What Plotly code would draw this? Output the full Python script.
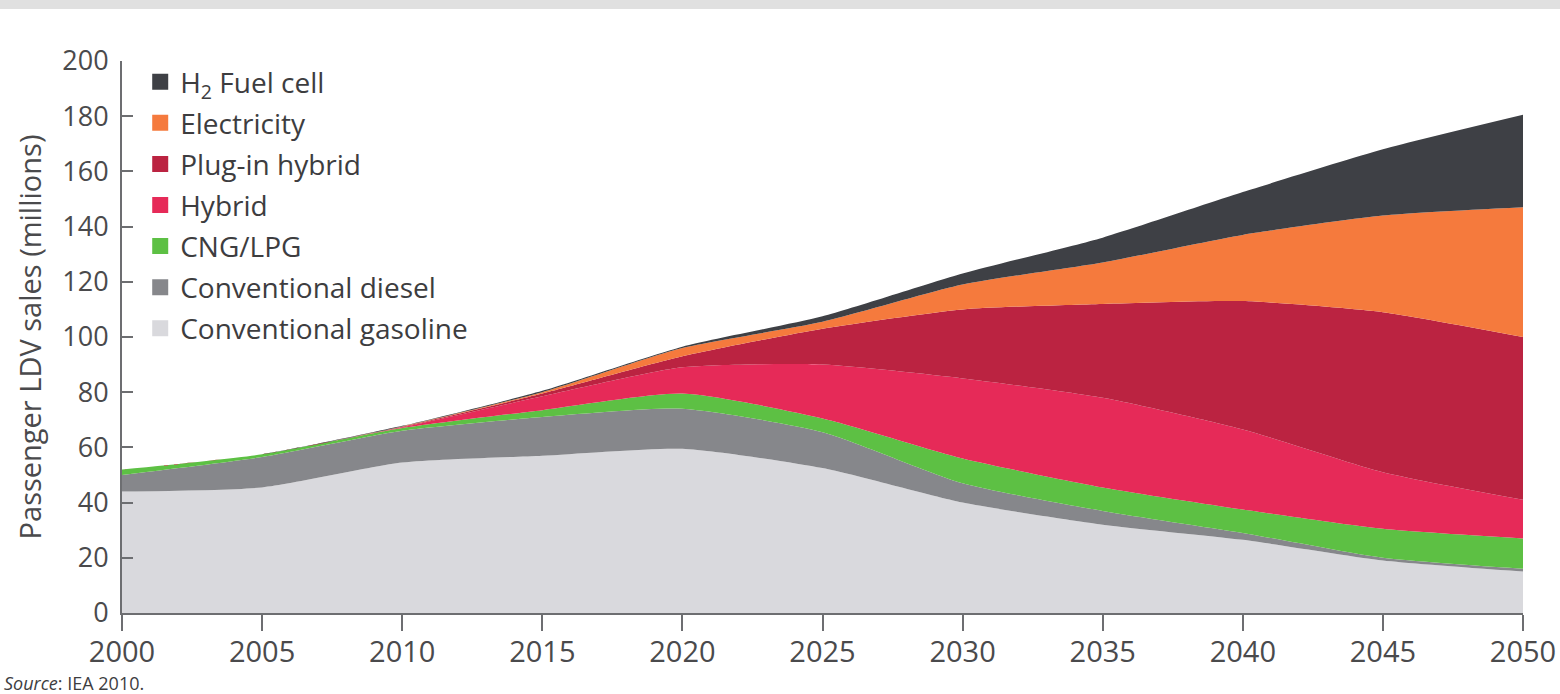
import plotly.graph_objects as go

years = [2000, 2005, 2010, 2015, 2020, 2025, 2030, 2035, 2040, 2045, 2050]

gasoline = [44, 45.5, 54.5, 57, 59.5, 52.5, 40, 32, 26.5, 19, 15]
diesel = [6, 11, 11.5, 14, 14.5, 13, 7, 5, 2.5, 1, 1]
cng_lpg = [2, 1, 1, 2.5, 5.5, 5, 9, 8.5, 8.5, 10.5, 11]
hybrid = [0, 0, 0.3, 5, 9.5, 19.5, 29, 32.5, 29, 20.5, 14]
plug_in = [0, 0, 0.2, 1, 4, 13, 25, 34, 46.5, 58, 59]
electricity = [0, 0, 0.1, 0.5, 3, 2.5, 9, 15, 24, 35, 47]
fuel_cell = [0, 0, 0.2, 0.5, 0.5, 2, 4, 9, 15.5, 24, 33.5]

series = [
    ("Conventional gasoline", gasoline, "#d9d9dd"),
    ("Conventional diesel", diesel, "#86878b"),
    ("CNG/LPG", cng_lpg, "#5dc044"),
    ("Hybrid", hybrid, "#e62a58"),
    ("Plug-in hybrid", plug_in, "#bb2341"),
    ("Electricity", electricity, "#f57a3d"),
    ("H<sub>2</sub> Fuel cell", fuel_cell, "#3e4045"),
]

fig = go.Figure()
for name, vals, col in series:
    fig.add_trace(go.Scatter(
        x=years, y=vals, name=name, stackgroup="one", mode="lines",
        line=dict(width=0, shape="spline", smoothing=0.6),
        fillcolor=col, showlegend=False, hoverinfo="x+y+name",
    ))

# legend entries (square swatches), top to bottom
for i, (name, vals, col) in enumerate(reversed(series)):
    fig.add_trace(go.Scatter(
        x=[None], y=[None], name=name, mode="markers",
        marker=dict(symbol="square", size=16, color=col),
        legendgroup=f"g{i}", showlegend=True,
    ))

axis_col = "#6d6e71"
text_col = "#4a4a4c"

fig.update_layout(
    width=1560, height=694,
    margin=dict(l=122, r=37, t=61, b=81),
    paper_bgcolor="white", plot_bgcolor="white",
    font=dict(family="Open Sans", color=text_col, size=25),
    showlegend=True,
    legend=dict(
        x=0.013, y=1 + 4 / 552, xanchor="left", yanchor="top",
        bgcolor="rgba(0,0,0,0)", traceorder="grouped",
        tracegroupgap=1.7, font=dict(size=28, color="#3d3d3f"),
        itemsizing="trace",
    ),
    xaxis=dict(
        range=[2000, 2050], tickvals=years, ticktext=[str(y) for y in years],
        showgrid=False, zeroline=False, showline=True, linecolor=axis_col, linewidth=2,
        ticks="outside", ticklen=16, tickwidth=2, tickcolor=axis_col,
        tickfont=dict(size=29, color=text_col), ticklabelstandoff=-4,
        automargin=False,
    ),
    yaxis=dict(
        range=[0, 200], tickvals=list(range(0, 201, 20)),
        showgrid=False, zeroline=False, showline=True, linecolor=axis_col, linewidth=2,
        ticks="inside", ticklen=11, tickwidth=2, tickcolor=axis_col,
        tickfont=dict(size=27, color=text_col), ticklabelstandoff=6,
        title=dict(text="Passenger LDV sales (millions)", font=dict(size=29, color=text_col), standoff=12),
        automargin=False,
    ),
    shapes=[dict(type="rect", xref="paper", yref="paper",
                 x0=-0.2, x1=1.2, y0=1 + 52 / 552, y1=1 + 61 / 552,
                 fillcolor="#e0e0e0", line=dict(width=0), layer="below")],
    annotations=[dict(
        text="<i>Source</i>: IEA 2010.", xref="paper", yref="paper",
        x=-120 / 1401, y=-70 / 552, xanchor="left", yanchor="middle",
        showarrow=False, font=dict(size=18, color="#3d3d3f"),
    )],
)

fig.write_html("out.html", config={"displayModeBar": False},
               post_script="document.body.style.margin='0';document.body.style.overflow='hidden';")
